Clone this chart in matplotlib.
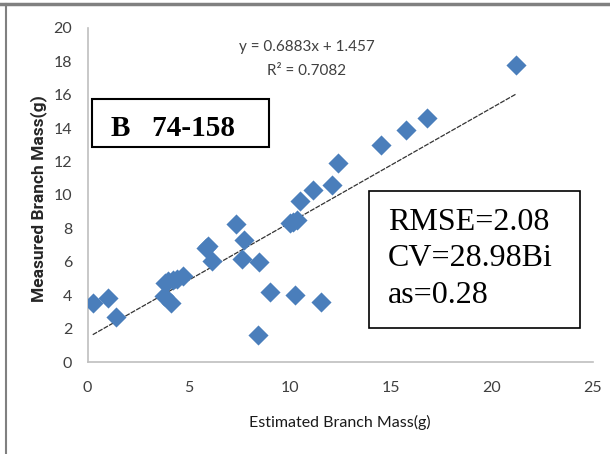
import numpy as np
import matplotlib
matplotlib.use("Agg")
import matplotlib.pyplot as plt
from matplotlib.lines import Line2D
from matplotlib.patches import Rectangle

# Estimated vs measured branch mass (g)
estimated = [0.26, 1.0, 1.4, 3.8, 3.85, 4.0, 4.15, 4.25, 4.45, 4.7,
             5.85, 5.97, 6.17, 7.34, 7.73, 7.62, 8.47, 8.41, 9.05,
             10.0, 10.17, 10.34, 10.28, 10.52, 11.17, 11.57, 12.08, 12.37,
             14.5, 15.75, 16.77, 21.21]
measured = [3.55, 3.82, 2.67, 3.95, 4.75, 4.85, 3.52, 4.9, 4.95, 5.15,
            6.8, 6.95, 6.02, 8.28, 7.3, 6.16, 6.0, 1.6, 4.2,
            8.33, 8.4, 8.5, 4.0, 9.62, 10.31, 3.62, 10.61, 11.9,
            13.02, 13.92, 14.6, 17.81]

slope = 0.6883
intercept = 1.457

xticks = [0, 5, 10, 15, 20, 25]
yticks = [0, 2, 4, 6, 8, 10, 12, 14, 16, 18, 20]

stats_lines = ["RMSE=2.08", "CV=28.98Bi", "as=0.28"]

sans = ["Lato", "DejaVu Sans"]
bold_sans = ["Roboto", "DejaVu Sans"]
serif = ["Liberation Serif", "DejaVu Serif"]

W, H = 610, 454
fig = plt.figure(figsize=(6.1, 4.54), dpi=100)
ax = fig.add_axes([87.5 / W, 1 - 362 / H, (593 - 87.5) / W, (362 - 28) / H])

def fx(px):
    return px / W

def fy(py):
    return 1 - py / H

ax.scatter(estimated, measured, marker="D", s=105, color="#4a7ebb", zorder=3,
           linewidths=0)

# linear trendline
xfit = np.array([min(estimated), max(estimated)])
ax.plot(xfit, slope * xfit + intercept, color="#333333", lw=0.9,
        linestyle=(0, (4, 1)), zorder=2)

ax.set_xlim(0, 25)
ax.set_ylim(0, 20)
ax.set_xticks(xticks)
ax.set_yticks(yticks)
ax.tick_params(length=0, labelsize=11.5, colors="#404040")
ax.tick_params(axis="x", pad=14)
ax.tick_params(axis="y", pad=11)
for lab in ax.get_xticklabels() + ax.get_yticklabels():
    lab.set_family(sans)

for s in ["top", "right"]:
    ax.spines[s].set_visible(False)
for s in ["left", "bottom"]:
    ax.spines[s].set_color("#bfbfbf")
    ax.spines[s].set_linewidth(1.2)

fig.text(fx(340), fy(422), "Estimated Branch Mass(g)", family=sans,
         fontsize=11.5, color="#1a1a1a", ha="center", va="center")
fig.text(fx(39), fy(199), "Measured Branch Mass(g)", family=bold_sans,
         fontsize=12.5, fontweight="bold", color="#262626", ha="center",
         va="center", rotation=90)

fig.text(fx(307), fy(47), "y = 0.6883x + 1.457", family=sans, fontsize=11,
         color="#404040", ha="center", va="center")
fig.text(fx(307), fy(71), "R² = 0.7082", family=sans, fontsize=11,
         color="#404040", ha="center", va="center")

# label box
fig.add_artist(Rectangle((fx(91.5), fy(146.5)), (269.5 - 91.5) / W,
                         (146.5 - 99) / H, transform=fig.transFigure,
                         fc="white", ec="black", lw=1.5, zorder=5))
fig.text(fx(111), fy(136.5), "B   74-158", family=serif, fontsize=21,
         fontweight="bold", ha="left", va="baseline", zorder=6)

# statistics box
fig.add_artist(Rectangle((fx(369), fy(328)), (579.5 - 369) / W,
                         (328 - 191) / H, transform=fig.transFigure,
                         fc="white", ec="black", lw=1.2, zorder=5))
for line, base in zip(stats_lines, [230, 266.5, 303]):
    fig.text(fx(388), fy(base), line, family=serif, fontsize=23,
             ha="left", va="baseline", zorder=6)

# outer frame lines
fig.add_artist(Line2D([0, 1], [fy(4), fy(4)], color="#808080", lw=2.5,
                      transform=fig.transFigure))
fig.add_artist(Line2D([fx(6), fx(6)], [0, fy(4)], color="#808080", lw=1.5,
                      transform=fig.transFigure))

fig.savefig("out.png", dpi=100)
